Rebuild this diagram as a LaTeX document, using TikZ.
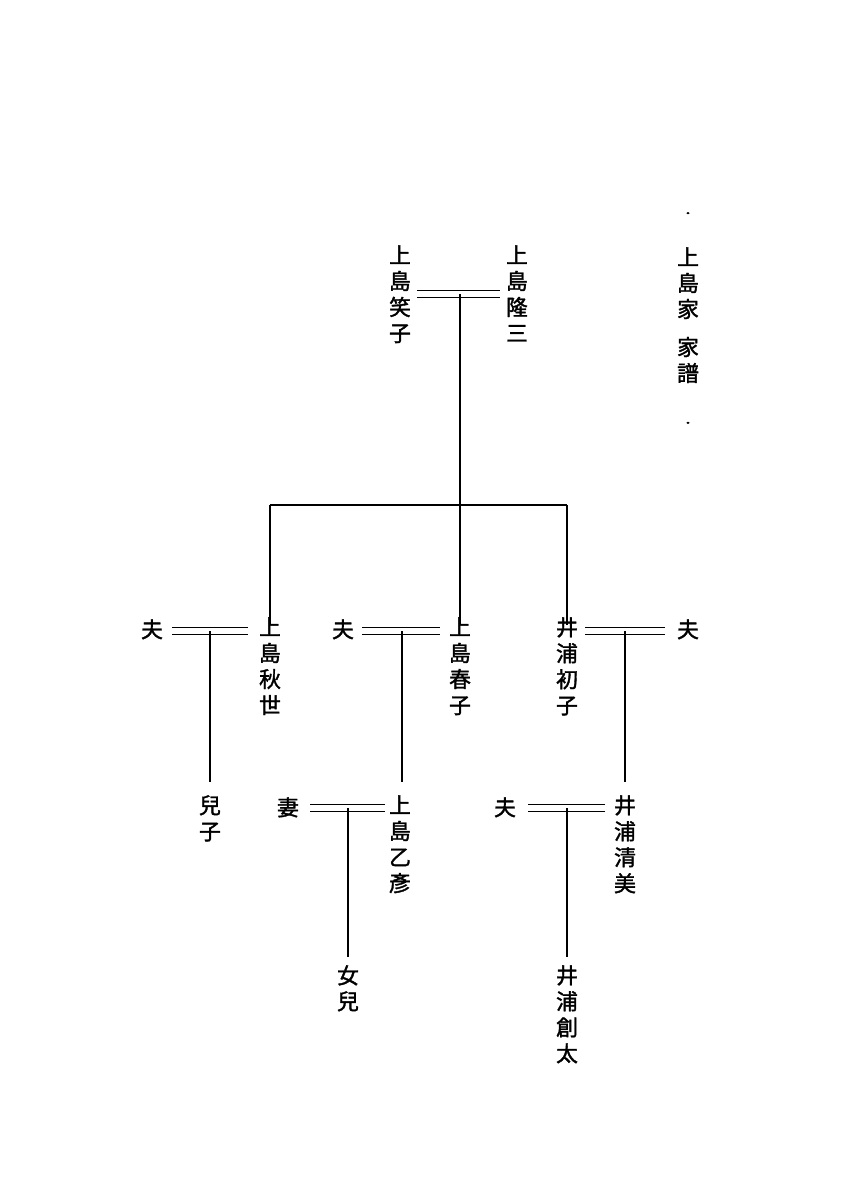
\documentclass[tikz,border=0pt]{standalone}
\usepackage{fontspec}
\newfontfamily\cjk{Noto Sans CJK JP}[AutoFakeBold=1.6]
\usetikzlibrary{positioning,calc}
\tikzset{
  person/.style={font=\cjk\bfseries\fontsize{15.5}{18.5}\selectfont,align=center,inner sep=0pt,anchor=north},
  wed/.style={double distance=1.3mm,line width=0.3mm},
  line/.style={line width=0.3mm},
  ornament/.pic={
    \draw[line width=0.25mm] (0,0.55) circle (0.12)
      (0,-0.1) circle (0.12)
      (-0.35,0.22) circle (0.12) (0.35,0.22) circle (0.12);
    \draw[line width=0.25mm] (-0.25,0.35) -- (0.25,0.1) (-0.25,0.1) -- (0.25,0.35);
    \draw[line width=0.3mm] (-0.45,0.25) .. controls (-0.9,0.45) and (-1.3,0.2) .. (-1.1,-0.1)
      .. controls (-0.95,-0.3) and (-0.7,-0.1) .. (-0.8,0.05);
    \draw[line width=0.3mm] (0.45,0.25) .. controls (0.9,0.45) and (1.3,0.2) .. (1.1,-0.1)
      .. controls (0.95,-0.3) and (0.7,-0.1) .. (0.8,0.05);
    \draw[line width=0.25mm] (-0.5,0.1) .. controls (-0.8,-0.05) and (-1.0,0) .. (-1.15,0.15);
    \draw[line width=0.25mm] (0.5,0.1) .. controls (0.8,-0.05) and (1.0,0) .. (1.15,0.15);
  }
}
\begin{document}
\begin{tikzpicture}[x=0.025cm,y=-0.025cm]
\useasboundingbox (0,0) rectangle (840,1200);

% title
\node[person] (title) at (688,247) {上\\島\\家\\[0.55em]家\\譜};
\pic at (688,213) {ornament};
\pic[yscale=-1] at (688,423) {ornament};

% first generation
\node[person] (ryuzo) at (517,245) {上\\島\\隆\\三};
\node[person] (emiko) at (400,245) {上\\島\\笑\\子};
\coordinate (w0) at (460,294);
\coordinate (fork) at (460,505);

% second generation
\node[person] (akiyo) at (270,617) {上\\島\\秋\\世};
\node[person] (haruko) at (460,617) {上\\島\\春\\子};
\node[person] (hatsuko) at (567,617) {井\\浦\\初\\子};
\node[person] (h1) at (152,619) {夫};
\node[person] (h2) at (343,619) {夫};
\node[person] (h3) at (688,619) {夫};

% third generation
\node[person] (ko) at (210,795) {兒\\子};
\node[person] (otohiko) at (400,795) {上\\島\\乙\\彥};
\node[person] (wife) at (288,797) {妻};
\node[person] (kiyomi) at (625,795) {井\\浦\\清\\美};
\node[person] (h4) at (505,797) {夫};

% fourth generation
\node[person] (daughter) at (348,965) {女\\兒};
\node[person] (sota) at (567,965) {井\\浦\\創\\太};

% marriages
\draw[wed] ($(emiko.east|-w0)+(6,0)$) -- ($(ryuzo.west|-w0)+(-6,0)$);
\draw[line] (w0) -- (fork);
\draw[line] (akiyo.north|-fork) -- (hatsuko.north|-fork);
\draw[line] (akiyo.north|-fork) -- ++(0,120);
\draw[line] (fork) -- ++(0,120);
\draw[line] (hatsuko.north|-fork) -- ++(0,120);

\draw[wed] (172,631) -- (248,631);
\draw[line] (210,631) -- (210,782);
\draw[wed] (362,631) -- (440,631);
\draw[line] (402,631) -- (402,782);
\draw[wed] (585,631) -- (665,631);
\draw[line] (625,631) -- (625,782);

\draw[wed] (310,808) -- (385,808);
\draw[line] (348,808) -- (348,957);
\draw[wed] (528,808) -- (605,808);
\draw[line] (567,808) -- (567,957);
\end{tikzpicture}
\end{document}
